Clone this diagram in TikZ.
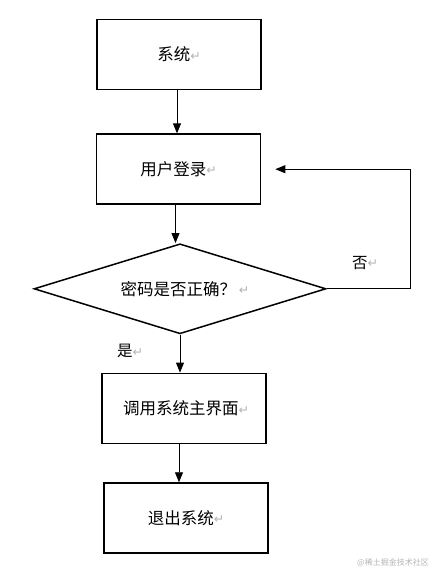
\documentclass[tikz,border=0pt]{standalone}
\usepackage{fontspec}
\usepackage{tikz}
\usetikzlibrary{shapes.geometric, arrows.meta, positioning, calc}
\newfontfamily\cjk{Noto Sans CJK SC}
\newfontfamily\symfont{DejaVu Sans}
\definecolor{markgray}{HTML}{B4B4B4}
\newcommand{\ret}{{\color{markgray}\symfont\fontsize{12.5}{14}\selectfont\raisebox{0.5pt}{↵}}}

\begin{document}
\begin{tikzpicture}[
    x=1pt, y=1pt,
    every node/.style={font=\cjk\fontsize{16.5}{19}\selectfont},
    block/.style={rectangle, draw=black, line width=1.7pt, minimum width=164pt, minimum height=70pt, align=center, inner sep=0pt},
    decision/.style={diamond, draw=black, line width=1.5pt, aspect=3.24, minimum width=292pt, minimum height=90pt, inner sep=0pt, align=center},
    arrow/.style={-{Triangle[width=8pt,length=10pt]}, line width=0.9pt},
    answer/.style={font=\cjk\fontsize{15.5}{18}\selectfont}
]
\useasboundingbox (0,0) rectangle (437,-571);

\node[block] (sys) at (179,-54.5) {系统\ret};
\node[block, below=43pt of sys, xshift=-0.5pt] (login) {用户登录\ret};
\node[decision, below=38pt of login, xshift=1.5pt] (check) {\hspace*{10pt}密码是否正确？\,\ret};
\node[block, below=38pt of check, xshift=4pt] (mainui) {\hspace*{4pt}调用系统主界面\ret};
\node[block, below=38pt of mainui, xshift=2pt] (quit) {退出系统\ret};

% loop back on a wrong password
\coordinate (back) at ($(check.east)+(84,0)$);

\draw[arrow] ([xshift=-2pt]sys.south) -- ([xshift=-2pt]sys.south |- login.north);
\draw[arrow] ([xshift=-3pt]login.south) -- ([xshift=-3pt]login.south |- check.north);
\draw[arrow] (check.south) -- (check.south |- mainui.north);
\draw[arrow] ([xshift=-5pt]mainui.south) -- ([xshift=-5pt]mainui.south |- quit.north);
\draw[arrow, shorten >=14pt] (check.east) -- (back) |- (login.east);

\node[answer] (no) at (365,-263) {否\ret};
\node[answer] (yes) at (130,-351) {是\ret};

\node[font=\cjk\fontsize{8}{10}\selectfont, text=markgray] (mark) at (393,-563) {@稀土掘金技术社区};
\end{tikzpicture}
\end{document}
